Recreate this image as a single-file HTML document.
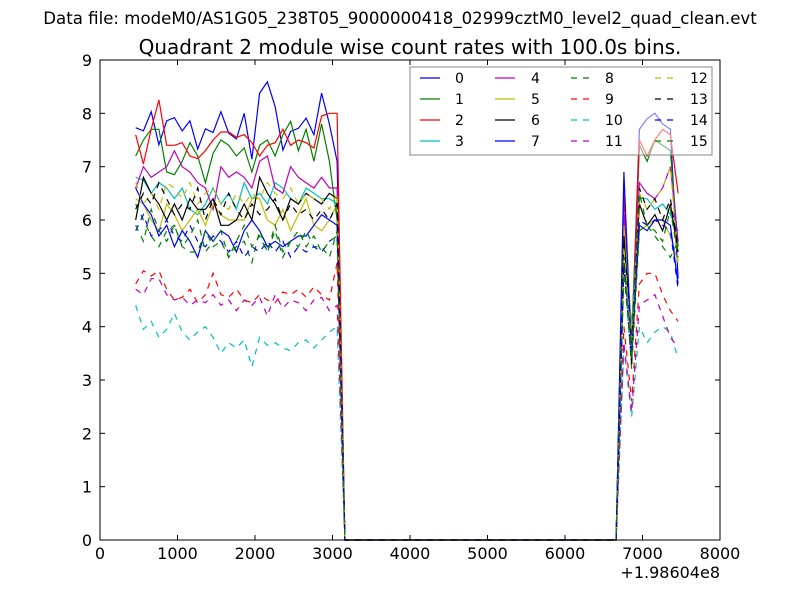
<!DOCTYPE html>
<html><head><meta charset="utf-8"><style>
body{margin:0;background:#fff}
svg text{font-family:"DejaVu Sans","Liberation Sans",sans-serif}
</style></head><body>
<svg id="chart" width="800" height="600" xmlns="http://www.w3.org/2000/svg">
<rect x="0" y="0" width="800" height="600" fill="#fff"/>
<text x="400" y="24" font-size="16.6" text-anchor="middle">Data file: modeM0/AS1G05_238T05_9000000418_02999cztM0_level2_quad_clean.evt</text>
<text x="410" y="54" font-size="20" text-anchor="middle">Quadrant 2 module wise count rates with 100.0s bins.</text>
<g id="plot"></g>
<rect x="100" y="60" width="620" height="480" fill="none" stroke="#000" stroke-width="1"/>
<g id="axes"></g>
<g id="legend"></g>
<text x="720" y="578" font-size="16" text-anchor="end">+1.98604e8</text>
</svg>
<script>
const xStart = 460, step = 100;
const xTicks = [0,1000,2000,3000,4000,5000,6000,7000,8000];
const yTicks = [0,1,2,3,4,5,6,7,8,9];
const colors = ['#0000ff','#008000','#ff0000','#00bfbf','#bf00bf','#bfbf00','#000000','#0000ff','#008000','#ff0000','#00bfbf','#bf00bf','#bfbf00','#000000','#0000ff','#008000'];
const s0L=[7.73,7.67,8.03,7.41,7.86,7.92,7.67,7.86,7.33,7.71,7.64,8.03,7.63,7.52,8.0,7.14,8.38,8.59,8.13,7.31,7.66,7.72,7.91,7.6,8.38,7.8,7.1];
const s1L=[7.2,7.5,7.7,7.7,6.9,6.85,7.1,7.45,7.2,6.7,7.25,7.5,7.4,7.2,7.35,6.9,7.4,7.5,7.2,7.6,7.85,7.3,7.7,7.1,7.8,7.1,6.0];
const s2L=[7.6,7.05,7.7,8.25,7.4,7.4,7.45,7.2,7.15,7.3,7.5,7.65,7.65,7.55,7.6,7.45,7.2,7.4,7.45,7.7,7.4,7.5,7.45,7.35,7.95,8.0,8.0];
const s3L=[6.8,6.75,6.5,6.7,6.6,6.4,6.6,6.2,6.1,6.3,6.6,6.3,6.5,6.2,6.7,6.4,6.5,6.3,6.7,6.6,6.4,6.3,6.6,6.5,6.4,6.4,6.3];
const s4L=[6.6,7.0,6.8,6.9,7.0,7.3,7.0,6.9,6.7,6.6,6.2,7.0,6.8,6.9,6.8,6.6,7.1,7.2,6.6,6.5,7.0,6.8,6.7,6.6,6.8,6.6,6.6];
const s5L=[6.4,6.3,6.0,5.8,6.3,6.1,5.8,6.0,6.2,5.9,6.3,6.1,6.0,6.0,6.0,6.4,6.4,6.0,5.9,6.2,5.8,6.1,6.4,5.9,5.8,6.0,6.3];
const s6L=[6.0,6.8,6.5,6.3,6.0,6.3,6.0,6.4,6.2,6.2,6.4,5.9,5.9,6.0,6.3,6.0,6.8,6.5,6.3,6.0,6.4,6.3,6.5,6.4,6.3,6.5,6.4];
const s7L=[6.6,6.3,6.1,5.7,5.9,5.5,5.8,5.6,5.3,5.8,5.6,5.8,5.7,5.4,5.8,6.0,5.8,5.5,5.6,5.5,5.6,5.7,5.7,5.9,6.1,6.0,5.9];
const s8L=[6.3,6.0,5.7,5.5,5.8,5.9,5.5,5.4,5.4,5.8,5.5,5.6,5.3,5.5,5.6,5.2,5.8,5.4,5.9,5.4,5.6,5.5,5.8,5.5,5.5,5.3,5.8];
const s9L=[4.8,5.05,4.95,5.05,4.7,4.5,4.55,4.7,4.45,4.6,5.0,4.6,4.55,4.7,4.5,4.45,4.6,4.5,4.45,4.65,4.6,4.7,4.55,4.75,4.6,4.5,5.2];
const s10L=[4.4,3.95,4.1,3.8,3.95,4.25,3.9,3.75,3.9,4.0,3.8,3.5,3.7,3.6,3.75,3.25,3.8,3.65,3.7,3.6,3.55,3.7,3.75,3.6,3.75,3.9,4.0];
const s11L=[4.7,4.6,4.9,4.9,4.6,4.5,4.55,4.4,4.5,4.45,4.6,4.4,4.5,4.3,4.5,4.4,4.55,4.2,4.6,4.35,4.5,4.45,4.3,4.5,4.55,4.3,4.4];
const s12L=[6.7,6.3,6.5,6.2,6.7,6.6,6.4,6.7,6.3,6.5,6.6,6.3,6.2,6.5,6.3,6.5,6.4,6.7,6.5,6.4,6.6,6.3,6.5,6.4,6.4,6.2,6.5];
const s13L=[6.2,6.5,6.3,6.7,6.4,6.1,6.3,6.2,6.6,6.0,6.4,6.1,6.5,6.2,6.0,6.3,6.1,6.2,6.4,6.0,6.3,6.1,6.2,6.0,6.2,6.0,6.3];
const s14L=[5.8,6.1,5.7,5.8,6.0,5.7,5.6,5.9,5.6,5.5,5.7,5.6,5.4,5.6,5.3,5.5,5.4,5.6,5.4,5.6,5.3,5.5,5.4,5.5,5.4,5.6,5.7];
const s15L=[5.9,5.6,6.2,5.8,5.6,5.9,5.5,5.7,6.0,5.4,5.6,5.8,5.3,5.6,5.9,5.5,5.7,5.4,5.8,5.3,5.6,5.8,5.5,5.7,5.4,5.6,5.7];
const s0R=[5.8,3.6,7.7,7.9,8.0,7.8,7.7,4.9];
const s1R=[5.6,3.8,7.4,7.1,7.5,7.4,7.3,5.5];
const s2R=[6.5,3.5,7.5,7.2,7.5,7.7,7.6,6.5];
const s3R=[5.9,4.0,6.4,6.4,6.2,6.3,6.1,5.8];
const s4R=[6.1,3.7,6.7,6.5,6.4,6.6,7.0,5.6];
const s5R=[5.9,3.9,5.8,5.9,6.0,6.0,5.7,5.2];
const s6R=[5.7,3.7,6.3,5.9,6.1,5.8,6.3,5.4];
const s7R=[6.9,3.4,5.9,5.8,6.0,6.0,5.9,4.8];
const s8R=[5.3,3.2,5.8,5.9,5.7,5.5,5.3,5.6];
const s9R=[4.0,2.6,4.8,5.0,5.0,4.6,4.3,4.1];
const s10R=[3.6,2.3,4.0,3.7,3.9,4.0,3.9,3.4];
const s11R=[3.7,2.4,4.4,4.5,4.6,4.2,3.8,3.6];
const s12R=[5.5,3.6,6.5,6.2,6.4,6.6,7.0,5.2];
const s13R=[5.2,3.3,6.6,6.2,6.4,6.0,6.4,5.5];
const s14R=[5.1,3.5,6.0,5.9,6.0,5.9,5.8,4.7];
const s15R=[5.0,3.4,6.5,5.9,5.8,5.6,6.2,5.3];
const leftSets=[s0L,s1L,s2L,s3L,s4L,s5L,s6L,s7L,s8L,s9L,s10L,s11L,s12L,s13L,s14L,s15L];
const rightSets=[s0R,s1R,s2R,s3R,s4R,s5R,s6R,s7R,s8R,s9R,s10R,s11R,s12R,s13R,s14R,s15R];
const nZeroBins = 35;

const NS='http://www.w3.org/2000/svg';
const X0=100,X1=720,Y0=540,Y1=60;
function xs(v){return X0+(v-0)/8000*(X1-X0);}
function ys(v){return Y0-v/9*(Y0-Y1);}
const plot=document.getElementById('plot');
const axes=document.getElementById('axes');
function mk(tag,attrs,parent){const e=document.createElementNS(NS,tag);for(const k in attrs)e.setAttribute(k,attrs[k]);parent.appendChild(e);return e;}

for(let s=0;s<16;s++){
  const vals=leftSets[s].concat([0]);
  for(let i=0;i<nZeroBins;i++)vals.push(0);
  const all=vals.concat(rightSets[s]);
  const pts=all.map((v,i)=>xs(xStart+i*step).toFixed(1)+','+ys(v).toFixed(1)).join(' ');
  const pl=mk('polyline',{points:pts,fill:'none',stroke:colors[s],'stroke-width':1.2},plot);
  if(s>=8)pl.setAttribute('stroke-dasharray','6,6');
  
  
}
xTicks.forEach(t=>{
  const x=xs(t);
  const l=mk('line',{x1:x,x2:x,y1:Y0,y2:Y0-5,stroke:'#000'},axes);
  
  
  mk('line',{x1:x,x2:x,y1:Y1,y2:Y1+5,stroke:'#000'},axes);
  const tx=mk('text',{x:x,y:Y0+19,'font-size':16,'text-anchor':'middle'},axes);
  tx.textContent=t;
  
  
});
yTicks.forEach(t=>{
  const y=ys(t);
  const l=mk('line',{x1:X0,x2:X0+5,y1:y,y2:y,stroke:'#000'},axes);
  
  
  mk('line',{x1:X1,x2:X1-5,y1:y,y2:y,stroke:'#000'},axes);
  const tx=mk('text',{x:X0-8,y:y+6,'font-size':16,'text-anchor':'end'},axes);
  tx.textContent=t;
  
  
});
const lg=document.getElementById('legend');
mk('rect',{x:410,y:67,width:302,height:88,fill:'#fff','fill-opacity':0.5,stroke:'#888'},lg);
const colX=[420,495,571,655], textX=[455,531,605,690], rowY=[78,99,120,141];
for(let s=0;s<16;s++){
  const c=Math.floor(s/4), r=s%4;
  const l=mk('line',{x1:colX[c],x2:colX[c]+20,y1:rowY[r],y2:rowY[r],stroke:colors[s],'stroke-width':1.2},lg);
  if(s>=8)l.setAttribute('stroke-dasharray','6,6');
  
  
  const t=mk('text',{x:textX[c],y:rowY[r]+5,'font-size':14},lg);
  t.textContent=s;
  
  
}
</script>
</body></html>
